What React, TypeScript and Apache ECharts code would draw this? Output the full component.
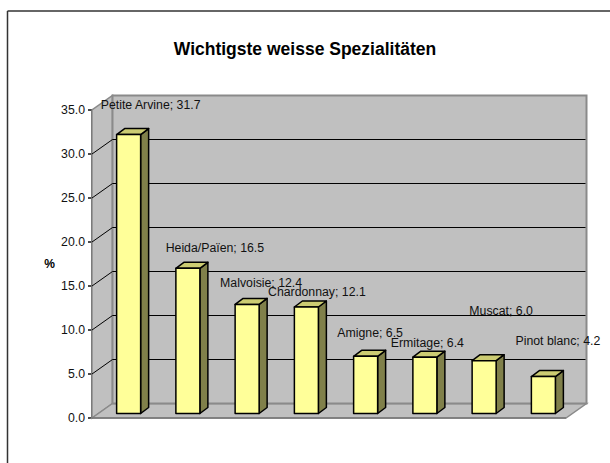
import React, { useEffect, useRef } from "react";
import * as echarts from "echarts";

const categories = [
  "Petite Arvine",
  "Heida/Païen",
  "Malvoisie",
  "Chardonnay",
  "Amigne",
  "Ermitage",
  "Muscat",
  "Pinot blanc",
];
const shares = [31.7, 16.5, 12.4, 12.1, 6.5, 6.4, 6.0, 4.2];
const yTicks = [0, 5, 10, 15, 20, 25, 30, 35];
const titleText = "Wichtigste weisse Spezialitäten";
const yName = "%";

// label placement (layout only), offsets from bar front-top centre
const labelDx = [22, 27, 14, 10.5, 4.5, 2.5, 17, 14.5];
const labelDy = [-29.5, -20.5, -21.5, -15, -23.5, -14.5, -49.5, -35.5];

const FONT = '"Liberation Sans", Arial, sans-serif';
const WALL = "#C0C0C0";
const WALL_EDGE = "#8A8A8A";
const DEPTH_X = 20.5;
const DEPTH_Y = -14.5;
const BAR_SHIFT_X = 7;
const BAR_SHIFT_Y = -4.5;
const BAR_W = 24;
const BAR_DX = 8;
const BAR_DY = -6;

export default function App() {
  const ref = useRef<HTMLDivElement>(null);
  useEffect(() => {
    document.body.style.margin = "0";
    document.body.style.overflow = "hidden";
    const chart = echarts.init(ref.current!, undefined, { renderer: "svg" });

    const wallsRender = (params: any, api: any) => {
      const cs = params.coordSys;
      const x0 = cs.x;
      const x1 = cs.x + cs.width;
      const yTop = cs.y;
      const yBot = cs.y + cs.height;
      const children: any[] = [];
      children.push({
        type: "polygon",
        shape: {
          points: [
            [x0, yBot],
            [x0, yTop],
            [x0 + DEPTH_X, yTop + DEPTH_Y],
            [x0 + DEPTH_X, yBot + DEPTH_Y],
          ],
        },
        style: { fill: WALL, stroke: WALL_EDGE, lineWidth: 1.5 },
      });
      children.push({
        type: "polygon",
        shape: {
          points: [
            [x0, yBot],
            [x0 + DEPTH_X, yBot + DEPTH_Y],
            [x1 + DEPTH_X, yBot + DEPTH_Y],
            [x1, yBot],
          ],
        },
        style: { fill: WALL, stroke: WALL_EDGE, lineWidth: 1.5 },
      });
      children.push({
        type: "rect",
        shape: {
          x: x0 + DEPTH_X,
          y: yTop + DEPTH_Y,
          width: x1 - x0,
          height: yBot - yTop,
        },
        style: { fill: WALL, stroke: WALL_EDGE, lineWidth: 2 },
      });
      yTicks.forEach((t) => {
        if (t === yTicks[0] || t === yTicks[yTicks.length - 1]) return;
        const y = api.coord([0, t])[1];
        children.push({
          type: "polyline",
          shape: {
            points: [
              [x0, y],
              [x0 + DEPTH_X, y + DEPTH_Y],
              [x1 + DEPTH_X - 1, y + DEPTH_Y],
            ],
          },
          style: { fill: null, stroke: "#000", lineWidth: 1 },
        });
      });
      children.push({
        type: "line",
        shape: { x1: x0, y1: yBot, x2: x1, y2: yBot },
        style: { stroke: "#777", lineWidth: 1.5 },
      });
      return { type: "group", children };
    };

    const barsRender = (params: any, api: any) => {
      const i = api.value(0);
      const v = api.value(1);
      const top = api.coord([i, v]);
      const base = api.coord([i, 0]);
      const cx = top[0] + BAR_SHIFT_X;
      const T = top[1] + BAR_SHIFT_Y;
      const B = base[1] + BAR_SHIFT_Y;
      const L = cx - BAR_W / 2;
      const R = cx + BAR_W / 2;
      const edge = { stroke: "#000", lineWidth: 1.5, lineJoin: "round" };
      return {
        type: "group",
        children: [
          {
            type: "polygon",
            shape: {
              points: [
                [R, T],
                [R + BAR_DX, T + BAR_DY],
                [R + BAR_DX, B + BAR_DY],
                [R, B],
              ],
            },
            style: { fill: "#80804A", ...edge },
          },
          {
            type: "polygon",
            shape: {
              points: [
                [L, T],
                [L + BAR_DX, T + BAR_DY],
                [R + BAR_DX, T + BAR_DY],
                [R, T],
              ],
            },
            style: { fill: "#CCCC72", ...edge },
          },
          {
            type: "rect",
            shape: { x: L, y: T, width: BAR_W, height: B - T },
            style: { fill: "#FFFF99", ...edge },
          },
          {
            type: "text",
            x: cx + labelDx[i],
            y: T + labelDy[i],
            style: {
              text: categories[i] + "; " + v.toFixed(1),
              fill: "#111",
              font: "12.3px " + FONT,
              align: "center",
              verticalAlign: "middle",
            },
            z2: 100,
          },
        ],
      };
    };

    chart.setOption({
      animation: false,
      backgroundColor: "#fff",
      textStyle: { fontFamily: FONT },
      title: {
        text: titleText,
        left: "center",
        top: 35,
        textStyle: { fontSize: 17.5, fontWeight: "bold", color: "#000", fontFamily: FONT },
      },
      graphic: [
        {
          type: "line",
          shape: { x1: 7.5, y1: 11, x2: 612, y2: 11 },
          style: { stroke: "#333", lineWidth: 1.5 },
          z: -10,
        },
        {
          type: "line",
          shape: { x1: 7.5, y1: 11, x2: 7.5, y2: 470 },
          style: { stroke: "#333", lineWidth: 1.5 },
          z: -10,
        },
      ],
      grid: { left: 92, top: 110, width: 474, height: 308, containLabel: false },
      xAxis: {
        type: "category",
        data: categories,
        axisLine: { show: false },
        axisTick: { show: false },
        axisLabel: { show: false },
        splitLine: { show: false },
      },
      yAxis: {
        type: "value",
        min: 0,
        max: 35,
        interval: 5,
        name: yName,
        nameLocation: "middle",
        nameGap: 37,
        nameRotate: 0,
        nameTextStyle: { fontSize: 12, fontWeight: "bold", color: "#000", fontFamily: FONT },
        axisLine: { show: true, lineStyle: { color: "#111", width: 1.5 } },
        axisTick: { show: true, length: 4, lineStyle: { color: "#111", width: 1.5 } },
        axisLabel: {
          formatter: (val: number) => val.toFixed(1),
          fontSize: 12.3,
          color: "#111",
          margin: 7,
          fontFamily: FONT,
        },
        splitLine: { show: false },
      },
      series: [
        {
          type: "custom",
          renderItem: wallsRender,
          data: [[0, 0]],
          clip: false,
          z: 1,
          silent: true,
        },
        {
          type: "custom",
          renderItem: barsRender,
          data: shares.map((v, i) => [i, v]),
          clip: false,
          z: 3,
        },
      ],
    });
    return () => chart.dispose();
  }, []);
  return (
    <div
      ref={ref}
      style={{ position: "absolute", left: 0, top: 0, width: 610, height: 463 }}
    />
  );
}
